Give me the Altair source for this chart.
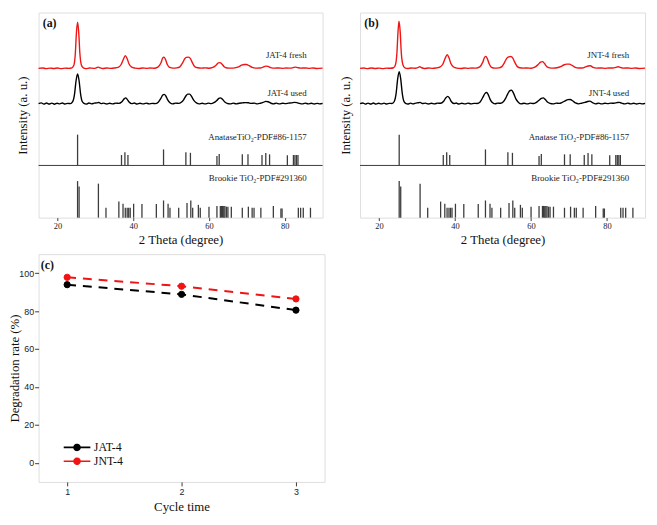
import altair as alt
import pandas as pd

# ---------------- data ----------------
# XRD patterns, (2theta [deg], counts above baseline)
jat_fresh = [(15,0),(16,8),(17,-6),(18,5),(19,-4),(20,6),(21,-5),(22,4),(23,0),(23.8,10),(24.3,60),(24.7,300),
             (25.0,750),(25.3,966),(25.6,760),(25.9,320),(26.3,70),(26.8,10),(27.5,-5),(28.5,6),(29.5,0),(30.3,12),
             (30.8,25),(31.3,8),(32,-4),(33,8),(34,0),(35,6),(36,20),(36.8,80),(37.4,190),(37.9,266),(38.4,200),
             (38.9,90),(39.6,25),(40.5,5),(41.5,-4),(42.5,6),(43.5,0),(44.5,8),(45.5,2),(46.5,25),(47.3,110),
             (47.8,220),(48.1,234),(48.5,190),(49.0,80),(49.6,20),(50.5,4),(51.5,10),(52.3,30),(53.0,110),(53.6,200),
             (54.0,230),(54.6,234),(55.1,205),(55.6,120),(56.2,40),(57.0,12),(58.0,4),(59.0,10),(60.0,2),(61.0,20),
             (61.8,60),(62.5,115),(62.9,120),(63.4,90),(64.0,35),(64.8,8),(65.8,4),(66.8,10),(67.8,30),(68.6,65),
             (69.3,80),(69.9,80),(70.6,55),(71.4,20),(72.5,5),(73.5,8),(74.3,25),(75.0,46),(75.6,40),(76.3,15),
             (77.3,4),(78.5,8),(79.5,0),(80.5,6),(81.5,4),(82.2,15),(82.8,26),(83.4,15),(84.2,4),(85.5,8),(86.5,0),
             (87.5,6),(88.5,-3),(90,4)]
jat_used = [(15,0),(15.7,15),(16.4,-10),(17.1,12),(17.8,-8),(18.5,10),(19.2,-12),(19.9,8),(20.6,-6),(21.3,12),
            (22,-8),(22.7,6),(23.4,0),(24.0,40),(24.5,200),(24.9,480),(25.3,620),(25.7,480),(26.1,200),(26.5,50),
            (27.0,5),(27.6,-10),(28.3,12),(29.0,-6),(29.7,10),(30.4,15),(30.9,25),(31.5,0),(32.2,10),(33.0,-8),
            (33.8,8),(34.6,-5),(35.4,10),(36.2,5),(37.0,40),(37.6,100),(38.0,120),(38.4,90),(38.9,35),(39.6,0),
            (40.3,12),(41.0,-8),(41.8,8),(42.6,-6),(43.4,10),(44.2,-4),(45.0,6),(45.8,0),(46.6,30),(47.3,110),
            (47.8,180),(48.2,194),(48.6,160),(49.1,80),(49.7,20),(50.4,-5),(51.2,10),(52.0,5),(52.7,30),(53.3,80),
            (53.9,160),(54.4,200),(54.9,200),(55.4,150),(56.0,70),(56.7,15),(57.4,-5),(58.2,8),(59.0,-6),(59.8,10),
            (60.6,0),(61.3,20),(62.0,60),(62.6,110),(63.0,120),(63.5,95),(64.1,40),(64.8,5),(65.6,-6),(66.4,10),
            (67.2,-5),(68.0,8),(68.8,15),(69.6,22),(70.4,18),(71.2,5),(72.0,10),(72.8,-6),(73.6,8),(74.3,25),
            (75.0,46),(75.6,40),(76.3,12),(77.0,-5),(77.8,10),(78.6,-6),(79.4,8),(80.2,0),(81.0,10),(81.8,15),
            (82.6,26),(83.2,20),(83.9,5),(84.6,-6),(85.4,10),(86.2,-5),(87.0,8),(87.8,-8),(88.6,6),(89.3,-5),(90,5)]
jnt_fresh = [(15,0),(16,6),(17,-5),(18,8),(19,-3),(20,5),(21,-6),(22,4),(23,2),(23.8,12),(24.3,70),(24.7,320),
             (25.0,780),(25.25,987),(25.55,780),(25.85,330),(26.3,70),(26.8,10),(27.5,-4),(28.5,6),(29.5,2),
             (30.2,15),(30.7,33),(31.2,12),(32,-3),(33,6),(34,0),(35,8),(36,25),(36.8,90),(37.4,210),(37.95,287),
             (38.4,220),(38.9,100),(39.6,28),(40.5,4),(41.5,-3),(42.5,8),(43.5,0),(44.5,6),(45.5,4),(46.5,30),
             (47.3,130),(47.8,235),(48.1,247),(48.5,200),(49.0,90),(49.6,22),(50.5,5),(51.5,10),(52.3,35),
             (53.0,120),(53.6,210),(54.1,240),(54.7,247),(55.2,215),(55.7,130),(56.3,45),(57.0,12),(58.0,4),
             (59.0,8),(60.0,3),(61.0,25),(61.8,75),(62.5,130),(63.0,140),(63.5,105),(64.1,40),(64.9,10),(65.8,4),
             (66.8,12),(67.8,35),(68.6,70),(69.4,87),(70.1,87),(70.8,60),(71.6,22),(72.5,6),(73.5,8),(74.3,30),
             (75.0,50),(75.6,53),(76.3,20),(77.3,4),(78.5,8),(79.5,0),(80.5,6),(81.5,6),(82.3,20),(82.9,33),
             (83.5,18),(84.3,4),(85.5,8),(86.5,0),(87.5,6),(88.5,-3),(90,4)]
jnt_used = [(15,0),(15.7,14),(16.4,-10),(17.1,10),(17.8,-8),(18.5,12),(19.2,-10),(19.9,8),(20.6,-6),(21.3,10),
            (22.0,-8),(22.7,6),(23.4,2),(24.0,45),(24.5,220),(24.9,520),(25.3,667),(25.7,520),(26.1,220),(26.5,55),
            (27.0,5),(27.6,-8),(28.3,10),(29.0,-6),(29.7,12),(30.3,18),(30.8,27),(31.4,2),(32.2,10),(33.0,-8),
            (33.8,8),(34.6,-5),(35.4,10),(36.2,8),(37.0,50),(37.6,125),(38.1,153),(38.5,120),(39.0,45),(39.7,2),
            (40.3,12),(41.0,-8),(41.8,8),(42.6,-6),(43.4,10),(44.2,-4),(45.0,6),(45.8,2),(46.6,35),(47.3,130),
            (47.9,215),(48.3,233),(48.7,195),(49.2,95),(49.8,22),(50.5,-5),(51.2,10),(52.0,8),(52.7,40),(53.3,110),
            (53.9,210),(54.5,275),(54.9,280),(55.4,215),(56.0,100),(56.7,25),(57.4,-4),(58.2,8),(59.0,-6),
            (59.8,10),(60.6,2),(61.3,22),(62.0,65),(62.7,110),(63.2,120),(63.7,90),(64.3,35),(65.0,5),(65.8,-6),
            (66.6,10),(67.4,5),(68.2,25),(69.0,60),(69.7,85),(70.3,87),(71.0,55),(71.7,15),(72.5,-4),(73.3,8),
            (74.2,25),(74.9,45),(75.5,53),(76.2,20),(77.0,-5),(77.8,10),(78.6,-6),(79.4,8),(80.2,0),(81.0,10),
            (81.8,8),(82.6,20),(83.2,27),(83.8,12),(84.6,-6),(85.4,10),(86.2,-5),(87.0,8),(87.8,-8),(88.6,6),
            (89.3,-5),(90,5)]

# reference stick patterns (2theta, relative intensity)
anatase_pdf = [(25.3,100),(36.9,34),(37.8,43),(38.6,34),(48.0,52),(53.9,43),(55.1,41),(62.1,31),(62.7,37),
               (68.8,36),(70.3,36),(74.0,34),(75.0,40),(76.0,36),(80.7,33),(82.3,34),(82.7,34),(83.1,34),(83.5,34)]
brookite_pdf = [(25.3,100),(25.7,85),(30.8,93),(32.8,27),(36.2,44),(37.3,38),(37.9,27),(38.4,27),(38.8,27),
                (39.2,27),(40.1,38),(42.3,37),(46.1,37),(48.0,47),(49.2,38),(49.7,27),(52.0,27),(54.2,40),(55.2,47),
                (55.7,27),(57.2,35),(57.7,27),(60.0,30),(62.1,32),(63.0,32),(63.3,32),(63.6,32),(63.9,32),(64.2,32),
                (64.6,30),(65.0,30),(65.9,30),(68.8,27),(70.4,30),(71.4,27),(71.9,27),(73.7,27),(77.0,32),(79.0,25),
                (79.3,25),(83.6,27),(84.2,27),(84.9,27),(86.8,27)]

x_ticks_xrd = [20, 40, 60, 80]

# panel (c)
cycles = [1, 2, 3]
jat4_rate = [93.9, 88.8, 80.5]
jnt4_rate = [97.8, 93.1, 86.4]
series_names = ["JAT-4", "JNT-4"]
y_ticks_c = [0, 20, 40, 60, 80, 100]

# ---------------- styling / layout ----------------
SERIF = "Liberation Serif"
SANS = "Liberation Sans"
RED = "#f01414"
FRAME = "#3a3a3a"
STICK = "#3c3c3c"
W_A, W_B, W_C = 288, 289, 290
H_AB, H_C = 208, 231
Y_SPAN = 215            # vertical units of the XRD panels
FRESH_BASE, USED_BASE = 156.5, 119.5
CNT_SCALE = 0.05
ANA_BASE, ANA_SCALE = 54.7, 0.323
BRK_BASE, BRK_SCALE = 0.0, 0.383


def xrd_panel(fresh, used, fresh_lbl, used_lbl, tag, ana_lbl, brk_lbl, width, title_pad):
    rows = []
    for t, c in fresh:
        rows.append({"theta": t, "y": FRESH_BASE + c * CNT_SCALE, "s": "fresh"})
    for t, c in used:
        rows.append({"theta": t, "y": USED_BASE + c * CNT_SCALE, "s": "used"})
    curves = pd.DataFrame(rows)

    sticks = pd.DataFrame(
        [{"theta": t, "y": ANA_BASE, "y1": ANA_BASE + i * ANA_SCALE} for t, i in anatase_pdf]
        + [{"theta": t, "y": BRK_BASE, "y1": BRK_BASE + i * BRK_SCALE} for t, i in brookite_pdf])

    labels = pd.DataFrame({
        "theta": [85.8, 85.8, 85.8, 85.8],
        "y": [170, 130.5, 84, 42],
        "text": [fresh_lbl, used_lbl, ana_lbl, brk_lbl]})
    tagdf = pd.DataFrame({"theta": [16.1], "y": [204], "text": [tag]})

    X = alt.X("theta:Q", scale=alt.Scale(domain=[15, 90], nice=False, zero=False),
              axis=alt.Axis(title="2 Theta (degree)", values=x_ticks_xrd, format="d", grid=False,
                            domain=False, tickSize=3, tickColor=FRAME, labelFont=SERIF,
                            labelFontSize=8.5, labelPadding=1, labelColor="#222",
                            titleFont=SERIF, titleFontSize=13, titleFontWeight="normal",
                            titlePadding=4, titleColor="#111"))
    Y = alt.Y("y:Q", scale=alt.Scale(domain=[0, Y_SPAN], nice=False, zero=False),
              axis=alt.Axis(title="Intensity (a. u.)", labels=False, ticks=False, grid=False,
                            domain=False, titleFont=SERIF, titleFontSize=13, titleFontWeight="normal",
                            titlePadding=title_pad, titleColor="#111"))

    lines = alt.Chart(curves).mark_line(strokeWidth=1.4, interpolate="monotone").encode(
        x=X, y=Y, detail="s:N",
        color=alt.Color("s:N", scale=alt.Scale(domain=["fresh", "used"], range=[RED, "#000000"]),
                        legend=None))
    sep = alt.Chart(pd.DataFrame({"y": [ANA_BASE]})).mark_rule(color=FRAME, strokeWidth=1).encode(y=Y)
    st = alt.Chart(sticks).mark_rule(color=STICK, strokeWidth=1.3).encode(x=X, y=Y, y2="y1:Q")
    txt = alt.Chart(labels).mark_text(align="right", baseline="middle", font=SERIF, fontSize=9,
                                      color="#222").encode(x=X, y=Y, text="text:N")
    tg = alt.Chart(tagdf).mark_text(align="left", baseline="middle", font=SERIF, fontSize=12,
                                    fontWeight="bold", color="#111").encode(x=X, y=Y, text="text:N")
    return alt.layer(sep, st, lines, txt, tg).properties(width=width, height=H_AB)


panel_a = xrd_panel(jat_fresh, jat_used, "JAT-4 fresh", "JAT-4 used", "(a)",
                    "AnataseTiO\u2082-PDF#86-1157", "Brookie TiO\u2082-PDF#291360", W_A, 9)
panel_b = xrd_panel(jnt_fresh, jnt_used, "JNT-4 fresh", "JNT-4 used", "(b)",
                    "Anatase TiO\u2082-PDF#86-1157", "Brookie TiO\u2082-PDF#291360", W_B, 8)

# ---------- panel (c) ----------
cdf = pd.DataFrame({
    "cycle": cycles * 2,
    "rate": jat4_rate + jnt4_rate,
    "series": [series_names[0]] * 3 + [series_names[1]] * 3})
col_scale = alt.Scale(domain=series_names, range=["#000000", RED])

XC = alt.X("cycle:Q", scale=alt.Scale(domain=[0.75, 3.25], nice=False, zero=False),
           axis=alt.Axis(title="Cycle time", values=cycles, format="d", grid=False, domain=False,
                         tickSize=4, tickColor=FRAME, labelFont=SANS, labelFontSize=9, labelPadding=2,
                         labelColor="#222", titleFont=SERIF, titleFontSize=13, titleFontWeight="normal",
                         titlePadding=4, titleColor="#111"))
YC = alt.Y("rate:Q", scale=alt.Scale(domain=[-10, 110], nice=False, zero=False),
           axis=alt.Axis(title="Degradation rate (%)", values=y_ticks_c, grid=False, domain=False,
                         tickSize=4, tickColor=FRAME, labelFont=SANS, labelFontSize=9, labelPadding=1,
                         labelColor="#222", titleFont=SERIF, titleFontSize=13, titleFontWeight="normal",
                         titlePadding=-3, titleColor="#111"))

leg = alt.Legend(title=None, orient="none", legendX=33, legendY=435, padding=0,
                 symbolType="M-2.7,0H2.7M0.6,0A0.6,0.6,0,1,1,-0.6,0A0.6,0.6,0,1,1,0.6,0Z",
                 symbolSize=100, symbolStrokeWidth=1.6, symbolOpacity=1, symbolDash=[1, 0],
                 labelFont=SERIF, labelFontSize=12, labelOffset=11, rowPadding=0, labelColor="#111")

c_lines = alt.Chart(cdf).mark_line(strokeDash=[9, 7], strokeWidth=2).encode(
    x=XC, y=YC, detail="series:N",
    stroke=alt.Stroke("series:N", scale=col_scale, legend=leg))
c_pts = alt.Chart(cdf).mark_point(filled=True, size=40, opacity=1, strokeWidth=1).encode(
    x=XC, y=YC,
    fill=alt.Fill("series:N", scale=col_scale, legend=leg),
    stroke=alt.Stroke("series:N", scale=col_scale, legend=leg))
c_tag = alt.Chart(pd.DataFrame({"cycle": [0.77], "rate": [104.3], "text": ["(c)"]})).mark_text(
    align="left", baseline="middle", font=SERIF, fontSize=12, fontWeight="bold", color="#111").encode(
    x=XC, y=YC, text="text:N")
panel_c = alt.layer(c_lines, c_pts, c_tag).properties(width=W_C, height=H_C)

chart = alt.concat(panel_a, panel_b, panel_c, columns=2, align="each",
                   spacing={"row": 6, "column": 12}).properties(padding=0).configure_view(
    stroke=FRAME, strokeWidth=1).configure_legend(
    labelFont=SERIF, labelFontSize=12, labelColor="#111").configure(background="white")

chart.save("out.html", embed_options={"renderer": "svg", "actions": False})
